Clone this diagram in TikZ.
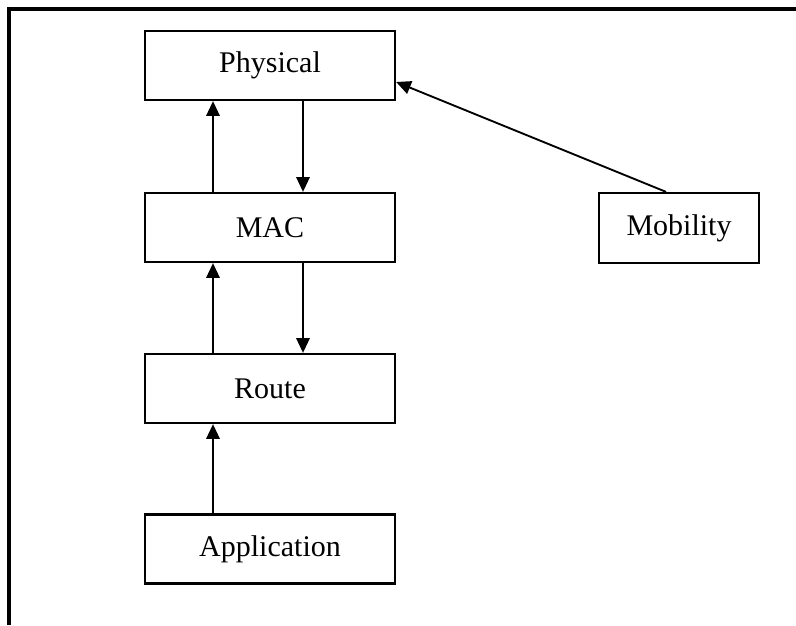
\documentclass[tikz,border=0pt]{standalone}
\usepackage{fontspec}
\setmainfont{Liberation Serif}
\usetikzlibrary{arrows.meta,calc}

\tikzset{
  layer/.style={draw, line width=1.7pt, inner sep=0pt, font=\fontsize{22.5}{27}\selectfont,
                minimum width=187.5pt, minimum height=51.75pt},
  flow/.style={line width=1.4pt, -{Triangle[length=11pt,width=10pt]}},
  frame/.style={line width=2.4pt}
}

\begin{document}
\begin{tikzpicture}[x=0.75pt, y=-0.75pt]
  \useasboundingbox (0,0) rectangle (796,625);

  % partial frame: left and top edges
  \draw[frame] (9,625) -- (9,9) -- (796,9);

  % protocol stack
  \node[layer] (phy) at (270,65.5)  {Physical};
  \node[layer] (mac) at (270,227.5) {MAC};
  \node[layer] (rte) at (270,388.5) {Route};
  \node[layer] (app) at (270,549)   {Application};
  \node[layer, minimum width=120pt, minimum height=52.5pt] (mob) at (679,228) {Mobility};

  % columns for upward and downward flows
  \coordinate (upx)   at (213,0);
  \coordinate (downx) at (303,0);
  \coordinate (mobx)  at (666,0);
  \coordinate (tipy)  at (0,82);

  \draw[flow] (mac.north -| upx)   -- (phy.south -| upx);
  \draw[flow] (phy.south -| downx) -- (mac.north -| downx);
  \draw[flow] (rte.north -| upx)   -- (mac.south -| upx);
  \draw[flow] (mac.south -| downx) -- (rte.north -| downx);
  \draw[flow] (app.north -| upx)   -- (rte.south -| upx);

  % mobility feeds the physical layer
  \draw[flow] (mob.north -| mobx) -- (phy.east |- tipy);
\end{tikzpicture}
\end{document}
